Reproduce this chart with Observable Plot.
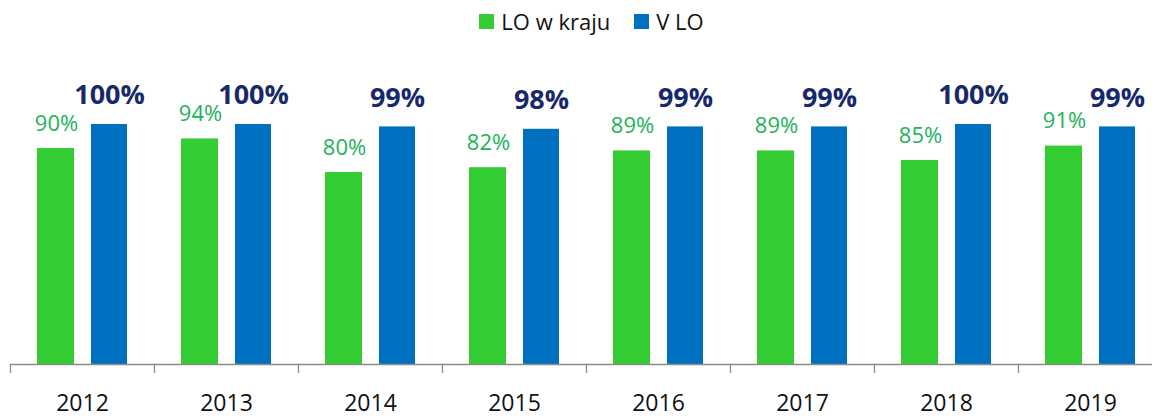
<!DOCTYPE html>
<html>
<head>
<meta charset="utf-8">
<script src="https://cdn.jsdelivr.net/npm/d3@7"></script>
<script src="https://cdn.jsdelivr.net/npm/@observablehq/plot@0.6"></script>
<style>
  body { margin: 0; background: #fff; font-family: "Open Sans", sans-serif; overflow: hidden; }
  #legend { height: 42px; display: flex; justify-content: center; align-items: center; padding-left: 31px; box-sizing: border-box; font-size: 22px; color: #111; }
  .sw { width: 15px; height: 15px; display: inline-block; margin-right: 7px; }
  .item { display: flex; align-items: center; margin: 0 12px; }
</style>
</head>
<body>
<div id="legend"></div>
<div id="chart"></div>
<script>
const years = ["2012", "2013", "2014", "2015", "2016", "2017", "2018", "2019"];
const loWKraju = [90, 94, 80, 82, 89, 89, 85, 91];
const vLO = [100, 100, 99, 98, 99, 99, 100, 99];
const seriesNames = ["LO w kraju", "V LO"];
const seriesColors = ["#33cc33", "#0070c0"];

const greenData = years.map((y, i) => ({year: y, value: loWKraju[i]}));
const blueData = years.map((y, i) => ({year: y, value: vLO[i]}));

const legend = document.getElementById("legend");
seriesNames.forEach((n, i) => {
  const it = document.createElement("div");
  it.className = "item";
  it.innerHTML = `<span class="sw" style="background:${seriesColors[i]}"></span><span>${n}</span>`;
  legend.appendChild(it);
});

const chart = Plot.plot({
  width: 1152,
  height: 376,
  marginLeft: 10,
  marginRight: 0,
  marginTop: 0,
  marginBottom: 54,
  style: { fontFamily: "Open Sans, sans-serif", background: "#fff" },
  x: { domain: years, range: [10, 1162], padding: 0, label: null },
  y: { domain: [0, 100], range: [322, 82], axis: null },
  marks: [
    Plot.barY(greenData, { x: "year", y: "value", fill: seriesColors[0], insetLeft: 27, insetRight: 80 }),
    Plot.barY(blueData, { x: "year", y: "value", fill: seriesColors[1], insetLeft: 81, insetRight: 27 }),
    Plot.text(greenData, { x: "year", y: "value", text: d => d.value + "%", dx: -26, dy: -25, fill: "#22b25b", fontSize: 22, lineAnchor: "middle" }),
    Plot.text(blueData, { x: "year", y: "value", text: d => d.value + "%", dx: 27, dy: -29, fill: "#17296b", fontSize: 27, fontWeight: "bold", lineAnchor: "middle" }),
    Plot.ruleY([0], { stroke: "#8c8c8c", strokeWidth: 1.3 }),
    Plot.ruleX(years, { x: d => d, y1: 0, y2: -3.7, dx: -72, stroke: "#8c8c8c", strokeWidth: 1.3, clip: false }),
    Plot.axisX({ tickSize: 0, tickPadding: 30, fontSize: 23, fill: "#111", label: null })
  ]
});
document.getElementById("chart").appendChild(chart);
</script>
</body>
</html>
